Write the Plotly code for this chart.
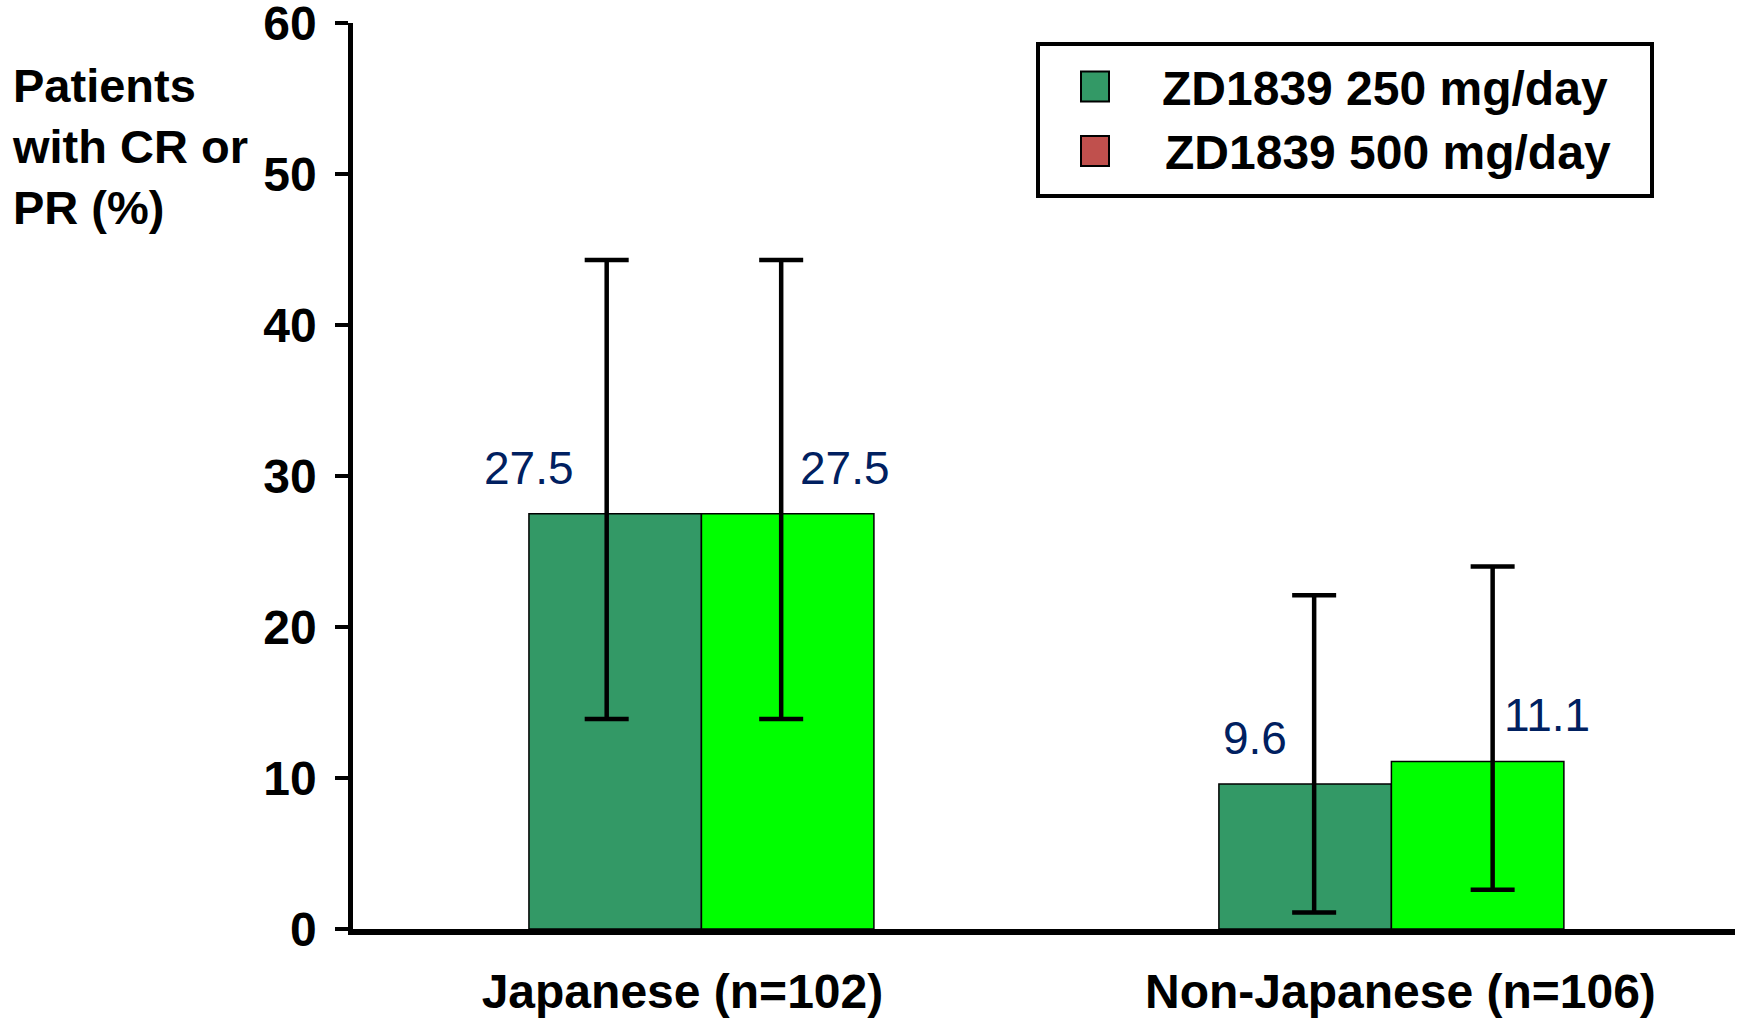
import plotly.graph_objects as go

# ---------------- data ----------------
categories = ["Japanese (n=102)", "Non-Japanese (n=106)"]
series_names = ["ZD1839 250 mg/day", "ZD1839 500 mg/day"]
rate_250 = [27.5, 9.6]
rate_500 = [27.5, 11.1]
ci_upper_250 = [44.3, 22.1]
ci_lower_250 = [13.9, 1.1]
ci_upper_500 = [44.3, 24.0]
ci_lower_500 = [13.9, 2.6]
y_ticks = [0, 10, 20, 30, 40, 50, 60]
y_title = "Patients<br>with CR or<br>PR (%)"

# ---------------- styling / layout ----------------
W, H = 1740, 1018
L, R, T, B = 353, 5, 23, 89
plot_w = W - L - R
plot_h = H - T - B
x_range = [-0.505, 1.498]
px_per_unit = plot_w / (x_range[1] - x_range[0])

FONT = "Liberation Sans, Arial, sans-serif"
col_250 = "#339966"
col_500 = "#00FF00"
legend_cols = ["#339966", "#C0504D"]
label_col = "#002060"
BAR_W = 0.25  # bargap 0.5, two bars per group

def pxx(px):
    return (px - L) / plot_w

def pxy(py):
    return (H - B - py) / plot_h

xpos = list(range(len(categories)))
tick_nudge_px = [-19, 9]  # category labels sit slightly off-centre in the original

fig = go.Figure()
fig.add_trace(go.Bar(x=xpos, y=rate_250, name=series_names[0], showlegend=False,
                     marker=dict(color=col_250, line=dict(color="black", width=1.5))))
fig.add_trace(go.Bar(x=xpos, y=rate_500, name=series_names[1], showlegend=False,
                     marker=dict(color=col_500, line=dict(color="black", width=1.5))))

# error bars (slightly nudged from bar centres, as in the original)
err_sets = [
    (rate_250, ci_upper_250, ci_lower_250, -BAR_W / 2, [-8.5, 9]),
    (rate_500, ci_upper_500, ci_lower_500, BAR_W / 2, [-6.5, 15]),
]
for vals, up, lo, off, nudge in err_sets:
    fig.add_trace(go.Scatter(
        x=[i + off + n / px_per_unit for i, n in zip(xpos, nudge)],
        y=vals, mode="markers", showlegend=False, hoverinfo="skip",
        marker=dict(size=1, color="rgba(0,0,0,0)"),
        error_y=dict(type="data", symmetric=False,
                     array=[u - v for u, v in zip(up, vals)],
                     arrayminus=[v - l for v, l in zip(vals, lo)],
                     color="black", thickness=4.5, width=22),
    ))

# value labels
label_shift = [(-86.5, 57), (-50, 69.5)]
annotations = []
for i in xpos:
    for s, (vals, off) in enumerate([(rate_250, -BAR_W / 2), (rate_500, BAR_W / 2)]):
        annotations.append(dict(
            x=i + off, y=vals[i], xref="x", yref="y", text=f"{vals[i]:.1f}",
            showarrow=False, xanchor="center", yanchor="middle",
            xshift=label_shift[i][s], yshift=46,
            font=dict(family=FONT, size=46, color=label_col)))

# y-axis title
annotations.append(dict(
    x=pxx(10), y=pxy(146.5), xref="paper", yref="paper", text=y_title,
    showarrow=False, xanchor="left", yanchor="middle", align="left",
    font=dict(family=FONT, size=47, color="black", weight="bold")))

# legend (drawn manually to match the large swatches)
shapes = [dict(type="rect", xref="paper", yref="paper",
               x0=pxx(1038), x1=pxx(1652), y0=pxy(196), y1=pxy(44),
               line=dict(color="black", width=4), fillcolor="white", layer="above")]
legend_rows = [86.5, 151]
legend_text_x = [1160, 1163]
for name, c, yc, tx in zip(series_names, legend_cols, legend_rows, legend_text_x):
    shapes.append(dict(type="rect", xref="paper", yref="paper",
                       x0=pxx(1081), x1=pxx(1109), y0=pxy(yc + 15), y1=pxy(yc - 15),
                       line=dict(color="black", width=2), fillcolor=c, layer="above"))
    annotations.append(dict(
        x=pxx(tx), y=pxy(yc + 2), xref="paper", yref="paper", text=name,
        showarrow=False, xanchor="left", yanchor="middle",
        font=dict(family=FONT, size=48, color="black", weight="bold")))

fig.update_layout(
    width=W, height=H,
    margin=dict(l=L, r=R, t=T, b=B, pad=0, autoexpand=False),
    paper_bgcolor="white", plot_bgcolor="white",
    barmode="group", bargap=0.5, bargroupgap=0,
    showlegend=False,
    font=dict(family=FONT, color="black"),
    annotations=annotations, shapes=shapes,
)
fig.update_xaxes(
    range=x_range,
    tickvals=[i + n / px_per_unit for i, n in zip(xpos, tick_nudge_px)],
    ticktext=categories, automargin=False,
    showline=True, linecolor="black", linewidth=6, ticks="",
    showgrid=False, zeroline=False, ticklabelstandoff=15,
    tickfont=dict(family=FONT, size=48, color="black", weight="bold"),
)
fig.update_yaxes(
    range=[0, 60], tickvals=y_ticks, automargin=False, ticklabeloverflow="allow",
    showline=True, linecolor="black", linewidth=4.5,
    ticks="outside", ticklen=13, tickwidth=4, tickcolor="black",
    showgrid=False, zeroline=False, ticklabelstandoff=9,
    tickfont=dict(family=FONT, size=48, color="black", weight="bold"),
)

fig.write_html(
    "out.html",
    config={"displayModeBar": False},
    post_script="document.body.style.margin='0px';document.body.style.overflow='hidden';",
)
